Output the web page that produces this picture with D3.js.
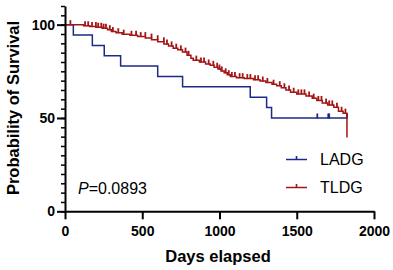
<!DOCTYPE html>
<html lang="en">
<head>
  <meta charset="UTF-8">
  <title>Survival curve</title>
  <script src="https://cdn.jsdelivr.net/npm/d3@7"></script>
  <style>
    body { margin: 0; background: #fff; }
    text { font-family: Arial, "Liberation Sans", sans-serif; }
  </style>
</head>
<body>
  <svg id="chart" width="393" height="270"></svg>
  <script>
    // LADG: step points (day, % surviving after that day) and censor days
    const ladgDays = [0, 54, 177, 254, 360, 600, 761, 1199, 1305, 1337, 1825];
    const ladgSurv = [100, 94.4, 88.9, 83.3, 77.8, 72.2, 66.7, 61.1, 55.6, 50, 50];
    const ladgCensor = [1633, 1704, 1710, 1825];

    // TLDG
    const tldgDays = [0, 120, 160, 200, 240, 275, 300, 330, 370, 420, 470, 520, 560, 600, 640, 670,
      700, 730, 760, 790, 815, 830, 870, 910, 940, 965, 990, 1010, 1030, 1050, 1070, 1110, 1160,
      1220, 1262, 1300, 1340, 1370, 1400, 1430, 1460, 1500, 1560, 1600, 1630, 1665, 1700, 1740,
      1770, 1800, 1825];
    const tldgSurv = [100, 99.4, 99.0, 98.6, 98.1, 97.3, 96.3, 95.7, 94.9, 94.3, 93.6, 92.8, 91.9,
      90.8, 89.7, 88.6, 87.4, 86.5, 85.3, 83.6, 82.0, 81.0, 80.0, 78.9, 78.2, 77.2, 76.2, 75.2,
      74.2, 73.2, 72.2, 71.6, 71.1, 70.5, 69.8, 69.0, 68.1, 67.3, 66.2, 65.0, 63.8, 62.9, 61.8,
      60.6, 59.4, 58.0, 57.0, 55.8, 53.6, 52.6, 39.5];
    const tldgCensor = [35, 130, 150, 175, 200, 215, 235, 250, 265, 290, 310, 345, 380, 430, 460,
      490, 520, 560, 600, 640, 660, 690, 720, 750, 780, 800, 850, 880, 900, 930, 960, 985, 1000,
      1015, 1040, 1060, 1080, 1100, 1130, 1150, 1180, 1200, 1230, 1250, 1280, 1310, 1350, 1390,
      1420, 1450, 1480, 1510, 1530, 1550, 1580, 1610, 1640, 1660, 1690, 1710, 1730, 1760, 1790, 1815];

    const xTicks = [0, 500, 1000, 1500, 2000];
    const yTicks = [0, 50, 100];
    const yMinor = d3.range(0, 111, 5);
    const pText = "=0.0893";

    const series = [
      {name: "LADG", days: ladgDays, surv: ladgSurv, censor: ladgCensor, color: "#1e2a87"},
      {name: "TLDG", days: tldgDays, surv: tldgSurv, censor: tldgCensor, color: "#a31515"}
    ];

    const svg = d3.select("#chart");
    const x = d3.scaleLinear().domain([0, 2000]).range([65, 374]);
    const y = d3.scaleLinear().domain([0, 110]).range([211.3, 6]);

    // survival value at a given day (step function)
    function survAt(s, t) {
      let v = s.surv[0];
      for (let i = 0; i < s.days.length; i++) {
        if (s.days[i] <= t) v = s.surv[i];
      }
      return v;
    }

    const line = d3.line().x(d => x(d[0])).y(d => y(d[1])).curve(d3.curveStepAfter);

    series.forEach(s => {
      const pts = s.days.map((d, i) => [d, s.surv[i]]);
      svg.append("path")
        .attr("d", line(pts))
        .attr("fill", "none")
        .attr("stroke", s.color)
        .attr("stroke-width", 1.5);

      svg.append("g").selectAll("line")
        .data(s.censor)
        .enter()
        .append("line")
        .attr("x1", d => x(d)).attr("x2", d => x(d))
        .attr("y1", d => y(survAt(s, d - 0.5)) - 4.5)
        .attr("y2", d => y(survAt(s, d - 0.5)) + 0.5)
        .attr("stroke", s.color)
        .attr("stroke-width", 1.8);
    });

    // minor y ticks
    svg.append("g")
      .attr("transform", "translate(65,0)")
      .call(d3.axisLeft(y).tickValues(yMinor).tickSize(4).tickFormat(""))
      .call(g => g.select(".domain").remove())
      .selectAll("line").attr("stroke-width", 1.5);

    const yAxis = svg.append("g")
      .attr("transform", "translate(65,0)")
      .call(d3.axisLeft(y).tickValues(yTicks).tickSize(8).tickSizeOuter(0).tickPadding(2));
    yAxis.select(".domain").attr("stroke-width", 2);
    yAxis.selectAll(".tick line").attr("stroke-width", 2);
    yAxis.selectAll("text")
      .attr("font-size", 14).attr("font-weight", "bold")
      .style("font-family", "Arial, 'Liberation Sans', sans-serif");

    const xAxis = svg.append("g")
      .attr("transform", "translate(0,211.3)")
      .call(d3.axisBottom(x).tickValues(xTicks).tickFormat(d3.format("d"))
        .tickSize(8).tickSizeOuter(0).tickPadding(7));
    xAxis.select(".domain").attr("stroke-width", 2);
    xAxis.selectAll(".tick line").attr("stroke-width", 2);
    xAxis.selectAll("text")
      .attr("font-size", 14).attr("font-weight", "bold")
      .style("font-family", "Arial, 'Liberation Sans', sans-serif");

    // axis titles
    svg.append("text")
      .attr("x", 218).attr("y", 262)
      .attr("text-anchor", "middle")
      .attr("font-size", 16.5).attr("font-weight", "bold")
      .text("Days elapsed");

    svg.append("text")
      .attr("transform", "translate(19,108) rotate(-90)")
      .attr("text-anchor", "middle")
      .attr("font-size", 16.5).attr("font-weight", "bold")
      .text("Probability of Survival");

    // p value
    const p = svg.append("text").attr("x", 78).attr("y", 194).attr("font-size", 16);
    p.append("tspan").attr("font-style", "italic").text("P");
    p.append("tspan").text(pText);

    // legend
    const leg = svg.append("g").selectAll("g")
      .data(series)
      .enter()
      .append("g")
      .attr("transform", (d, i) => `translate(286,${159.5 + i * 28})`);
    leg.append("line")
      .attr("x1", 0).attr("x2", 21).attr("y1", 0).attr("y2", 0)
      .attr("stroke", d => d.color).attr("stroke-width", 1.5);
    leg.append("line")
      .attr("x1", 10.5).attr("x2", 10.5).attr("y1", -3.5).attr("y2", 0)
      .attr("stroke", d => d.color).attr("stroke-width", 1.6);
    leg.append("text")
      .attr("x", 34).attr("y", 5.5)
      .attr("font-size", 16)
      .text(d => d.name);
  </script>
</body>
</html>
